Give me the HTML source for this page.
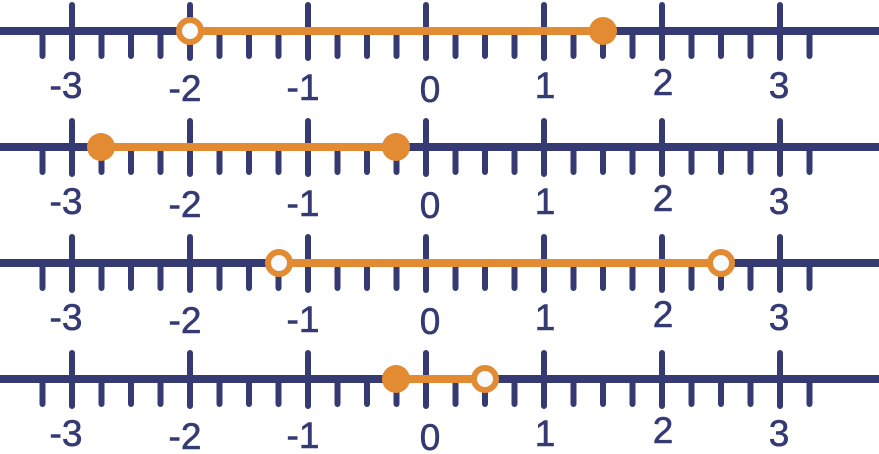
<!DOCTYPE html>
<html><head><meta charset="utf-8"><style>
html,body{margin:0;padding:0;background:#fff;}
svg{display:block;}
text{font-family:"Liberation Sans",Arial,sans-serif;font-size:37px;fill:#353a73;text-anchor:middle;stroke:#353a73;stroke-width:0.6px;}
</style></head><body>
<svg width="879" height="454" viewBox="0 0 879 454" xmlns="http://www.w3.org/2000/svg">
<defs>
<g id="axis" stroke="#353a73" stroke-linecap="round" stroke-width="6">
<line x1="0" y1="31" x2="879" y2="31" stroke-width="8" stroke-linecap="butt"/>
<path d="M42.5 33V56M101.5 33V56M131 33V56M160.5 33V56M219.5 33V56M249 33V56M278.5 33V56M337.5 33V56M367 33V56M396.5 33V56M455.5 33V56M485 33V56M514.5 33V56M573.5 33V56M603 33V56M632.5 33V56M691.5 33V56M721 33V56M750.5 33V56M809.5 33V56"/>
<path d="M72 5V58M190 5V58M308 5V58M426 5V58M544 5V58M662 5V58M780 5V58"/>
</g>
<g id="labels">
<text x="66" y="98">-3</text><text x="185" y="101">-2</text><text x="303" y="100">-1</text><text x="430" y="102">0</text><text x="545" y="98">1</text><text x="663" y="95">2</text><text x="779" y="98">3</text>
</g>
</defs>
<g><use href="#axis"/><use href="#labels"/></g>
<g transform="translate(0,116)"><use href="#axis"/><use href="#labels"/></g>
<g transform="translate(0,232)"><use href="#axis"/><use href="#labels"/></g>
<g transform="translate(0,348)"><use href="#axis"/><use href="#labels"/></g>
<g stroke="#e38b32" stroke-width="8" fill="#e38b32">
<line x1="190" y1="31" x2="603" y2="31"/>
<circle cx="190" cy="31" r="11" fill="#f8fbfd" stroke-width="6"/>
<circle cx="603" cy="31" r="14" stroke="none"/>
<line x1="101" y1="147" x2="396" y2="147"/>
<circle cx="101" cy="147" r="14" stroke="none"/>
<circle cx="396" cy="147" r="14" stroke="none"/>
<line x1="279" y1="263" x2="721" y2="263"/>
<circle cx="279" cy="263" r="11" fill="#f8fbfd" stroke-width="6"/>
<circle cx="721" cy="263" r="11" fill="#f8fbfd" stroke-width="6"/>
<line x1="396" y1="379" x2="485" y2="379"/>
<circle cx="396" cy="379" r="14" stroke="none"/>
<circle cx="485" cy="379" r="11" fill="#f8fbfd" stroke-width="6"/>
</g>
</svg>
</body></html>
